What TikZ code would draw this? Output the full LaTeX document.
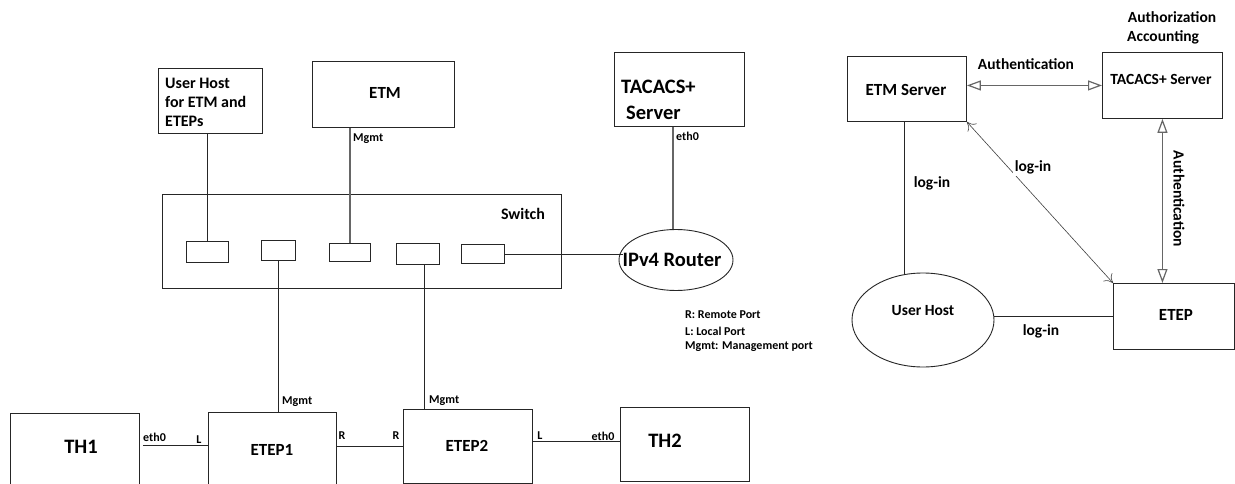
\documentclass[tikz,border=0pt]{standalone}
\usepackage{fontspec}
\setmainfont{Carlito}
\usetikzlibrary{arrows.meta,shapes.geometric,calc}
\begin{document}
\begin{tikzpicture}[x=1pt,y=-1pt,
  every node/.style={font=\bfseries},
  box/.style={draw=black!85, line width=0.9pt, anchor=north west, inner sep=0pt},
  port/.style={draw=black!85, line width=0.9pt, anchor=north west, inner sep=0pt},
  wire/.style={draw=black!85, line width=0.9pt},
  gwire/.style={draw=black!60, line width=1.2pt},
  small/.style={font=\bfseries\fontsize{12}{14}\selectfont, inner sep=0pt},
  mid/.style={font=\bfseries\fontsize{17}{19}\selectfont, inner sep=0pt},
  big/.style={font=\bfseries\fontsize{20.5}{24}\selectfont, inner sep=0pt},
  lab/.style={font=\bfseries\fontsize{15.5}{18}\selectfont, inner sep=0pt},
  openarr/.style={gwire, {Triangle[open,length=14pt,width=10pt]}-{Triangle[open,length=14pt,width=10pt]}},
  thinarr/.style={draw=black!75, line width=0.6pt, {To[length=8pt,width=12pt]}-{To[length=8pt,width=12pt]}}
]
\clip (0,0) rectangle (1235,484);
\fill[white] (0,0) rectangle (1235,484);

% ---------- left diagram ----------
\node[box, minimum width=104pt, minimum height=65pt] (uh) at (158,68) {};
\node[font=\bfseries\fontsize{16}{19}\selectfont, inner sep=0pt, anchor=west, align=left] (uht) at (165,102) {User Host\\for ETM and\\ETEPs};

\node[box, minimum width=142pt, minimum height=66pt] (etm) at (312,61) {};
\node[mid] (etmt) at (385,93) {ETM};

\node[box, minimum width=130pt, minimum height=74pt] (tac) at (614,52) {};
\node[big, anchor=west] (tact1) at (621,87) {TACACS+};
\node[big, anchor=west] (tact2) at (626,113) {Server};

\node[box, minimum width=399pt, minimum height=94pt] (sw) at (162,194) {};
\node[font=\bfseries\fontsize{16}{19}\selectfont, inner sep=0pt] (swt) at (523,214) {Switch};

\node[port, minimum width=42pt, minimum height=21pt] (p1) at (186,241) {};
\node[port, minimum width=34pt, minimum height=20pt] (p2) at (261,240) {};
\node[port, minimum width=41pt, minimum height=18pt] (p3) at (329,243) {};
\node[port, minimum width=43pt, minimum height=21pt] (p4) at (396,243) {};
\node[port, minimum width=43pt, minimum height=19pt] (p5) at (461,244) {};

\node[ellipse, draw=black!85, line width=0.9pt, minimum width=114pt, minimum height=61pt, inner sep=0pt] (router) at (676,260) {};
\node[big] (routert) at (672,260) {IPv4 Router};

\node[box, minimum width=129pt, minimum height=90pt] (th1) at (10,413) {};
\node[big] (th1t) at (81,447) {TH1};
\node[box, minimum width=128pt, minimum height=90pt] (etep1) at (208,412) {};
\node[mid] (etep1t) at (272,450) {ETEP1};
\node[box, minimum width=129pt, minimum height=74pt] (etep2) at (403,409) {};
\node[mid] (etep2t) at (467,446) {ETEP2};
\node[box, minimum width=129pt, minimum height=74pt] (th2) at (620,407) {};
\node[big] (th2t) at (665,441) {TH2};

% connectors left
\draw[wire] (p1.north) -- (p1.north |- uh.south);
\draw[gwire] (p3.north) -- (p3.north |- etm.south);
\draw[gwire] ($(router.north)+(-3,0)$) coordinate (rn) -- (rn |- tac.south);
\draw[wire] (p5.east) -- ($(router.west |- p5.east)+(4,0)$);
\draw[wire] (p2.south) -- (p2.south |- etep1.north);
\draw[wire] ($(p4.south)+(6,0)$) coordinate (p4d) -- (p4d |- etep2.north);
\coordinate (y445) at (0,445);
\coordinate (y446) at (0,446);
\coordinate (y441) at (0,441);
\draw[wire] ($(th1.east |- y445)+(3,0)$) -- (etep1.west |- y445);
\draw[wire] (etep1.east |- y446) -- (etep2.west |- y446);
\draw[wire] (etep2.east |- y441) -- (th2.west |- y441);

% port labels
\node[small, anchor=west] (m1) at (353,139) {Mgmt};
\node[small, anchor=west] (e1) at (676,136) {eth0};
\node[small, anchor=west] (m2) at (282,402) {Mgmt};
\node[small, anchor=west] (m3) at (429,401) {Mgmt};
\node[small, anchor=west] (e2) at (143,437) {eth0};
\node[small] (l1) at (199,440) {L};
\node[small] (r1) at (342,436) {R};
\node[small] (r2) at (396,436) {R};
\node[small] (l2) at (540,436) {L};
\node[small] (e3) at (603,436) {eth0};

% legend
\node[small, anchor=west] (lg1) at (685,315) {R: Remote Port};
\node[small, anchor=west] (lg2) at (685,331) {L: Local Port};
\node[small, anchor=west] (lg3) at (685,347) {Mgmt: Management port};

% ---------- right diagram ----------
\node[box, minimum width=119pt, minimum height=65pt] (ems) at (847,56) {};
\node[mid] (emst) at (906,90) {ETM Server};
\node[box, minimum width=120pt, minimum height=66pt] (tac2) at (1102,52) {};
\node[lab] (tac2t) at (1161,79) {TACACS+ Server};
\node[box, minimum width=121pt, minimum height=66pt] (etep) at (1113,283) {};
\node[mid] (etept) at (1176,315) {ETEP};
\node[ellipse, draw=black!85, line width=0.9pt, minimum width=142pt, minimum height=94pt, inner sep=0pt] (uhe) at (923,320) {};
\node[lab] (uhet) at (923,311) {User Host};

\node[lab] (authz) at (1172,17) {Authorization};
\node[lab, anchor=west] (acct) at (1127,37) {Accounting};

\draw[openarr] (ems.east |- tac2.west) -- (tac2.west);
\node[lab] (auth1) at (1026,64) {Authentication};
\draw[openarr] (tac2.south) -- (tac2.south |- etep.north);
\node[lab, rotate=-90] (auth2) at (1179,199) {Authentication};

\draw[wire] ($(ems.south)+(-3,0)$) coordinate (emsd) -- ($(emsd |- uhe.north)+(0,2)$);
\node[lab] (li1) at (932,183) {log-in};
\draw[thinarr] (etep.north west) -- (ems.south east);
\node[lab, fill=white, inner sep=2pt] (li2) at (1033,167) {log-in};
\draw[wire] (etep.west) -- (etep.west -| uhe.east);
\node[lab] (li3) at (1041,331) {log-in};
\end{tikzpicture}
\end{document}
